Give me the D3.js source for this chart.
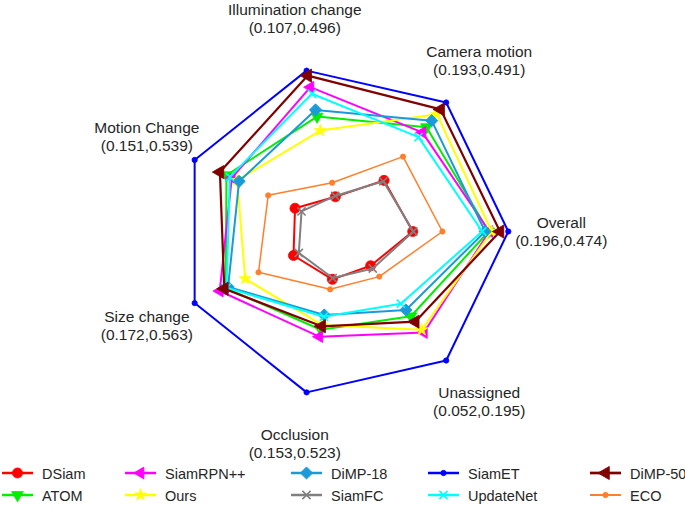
<!DOCTYPE html>
<html>
<head>
<meta charset="utf-8">
<script src="https://cdn.jsdelivr.net/npm/d3@7"></script>
<style>
  html, body { margin: 0; padding: 0; background: #fff; }
  svg { display: block; font-family: "Liberation Sans", Arial, sans-serif; }
</style>
</head>
<body>
<svg id="chart" width="685" height="511"></svg>
<script>
// ------------------------------
// DONNEES
// ------------------------------
const axesNames = ["Illumination change", "Camera motion", "Overall", "Unassigned", "Occlusion", "Size change", "Motion Change"];
const axesMin = [0.107, 0.193, 0.196, 0.052, 0.153, 0.172, 0.151];
const axesMax = [0.496, 0.491, 0.474, 0.195, 0.523, 0.563, 0.539];

const trackers = ["DSiam", "ATOM", "SiamRPN++", "Ours", "DiMP-18", "SiamFC", "SiamET", "UpdateNet", "DiMP-50", "ECO"];

// valeurs dans l'ordre de axesNames
const dsiam     = [0.191, 0.311, 0.313, 0.090, 0.263, 0.303, 0.277];
const atom      = [0.385, 0.434, 0.441, 0.146, 0.379, 0.481, 0.456];
const siamrpn   = [0.456, 0.422, 0.442, 0.164, 0.395, 0.497, 0.442];
const ours      = [0.351, 0.464, 0.446, 0.161, 0.368, 0.430, 0.428];
const dimp18    = [0.401, 0.449, 0.435, 0.139, 0.345, 0.475, 0.423];
const siamfc    = [0.193, 0.309, 0.314, 0.093, 0.260, 0.289, 0.260];
const siamet    = [0.496, 0.491, 0.474, 0.195, 0.523, 0.563, 0.539];
const updatenet = [0.440, 0.411, 0.430, 0.132, 0.349, 0.479, 0.447];
const dimp50    = [0.484, 0.475, 0.460, 0.152, 0.371, 0.485, 0.473];
const eco       = [0.225, 0.366, 0.363, 0.102, 0.286, 0.395, 0.347];

const seriesValues = [dsiam, atom, siamrpn, ours, dimp18, siamfc, siamet, updatenet, dimp50, eco];

// ------------------------------
// STYLES
// ------------------------------
const symTimes = d3.symbolTimes || d3.symbolX;
const styles = [
  { color: "#ff0000", sym: d3.symbolCircle,   size: 80, rot: 0,   lw: 2 },
  { color: "#00ee00", sym: d3.symbolTriangle, size: 60, rot: 180, lw: 2 },
  { color: "#ff00ff", sym: d3.symbolTriangle, size: 60, rot: -90, lw: 2 },
  { color: "#ffff00", sym: d3.symbolStar,     size: 45, rot: 0,   lw: 2 },
  { color: "#1a9ad8", sym: d3.symbolSquare,   size: 75, rot: 45,  lw: 2 },
  { color: "#808080", sym: symTimes,          size: 45, rot: 0,   lw: 2, stroke: true },
  { color: "#0000ff", sym: d3.symbolCircle,   size: 22, rot: 0,   lw: 2 },
  { color: "#00ffff", sym: symTimes,          size: 45, rot: 0,   lw: 2, stroke: true },
  { color: "#800000", sym: d3.symbolTriangle, size: 75, rot: -90, lw: 2.2 },
  { color: "#ff7f2a", sym: d3.symbolCircle,   size: 22, rot: 0,   lw: 1.5 }
];

// ------------------------------
// RADAR
// ------------------------------
const svg = d3.select("#chart");
const cx = 343.3, cy = 231.5, R = 165;
const step = 2 * Math.PI / axesNames.length;
const angle = i => -Math.PI / 2 - step / 4 + i * step;

const rScales = axesNames.map((n, i) => d3.scaleLinear().domain([axesMin[i], axesMax[i]]).range([0, R]));
const pt = (v, i) => [cx + rScales[i](v) * Math.cos(angle(i)), cy + rScales[i](v) * Math.sin(angle(i))];

const line = d3.line().curve(d3.curveLinearClosed);

function marker(g, s, x, y) {
  g.append("path")
    .attr("d", d3.symbol().type(s.sym).size(s.size)())
    .attr("transform", `translate(${x},${y}) rotate(${s.rot})`)
    .attr("fill", s.stroke ? "none" : s.color)
    .attr("stroke", s.color)
    .attr("stroke-width", s.stroke ? 1.6 : 0.8);
}

const plot = svg.append("g");
seriesValues.forEach((vals, k) => {
  const s = styles[k];
  const pts = vals.map((v, i) => pt(v, i));
  plot.append("path")
    .attr("d", line(pts))
    .attr("fill", "none")
    .attr("stroke", s.color)
    .attr("stroke-width", s.lw)
    .attr("stroke-linejoin", "round");
  pts.forEach(p => marker(plot, s, p[0], p[1]));
});

// libelles des axes
const labels = svg.append("g").attr("fill", "#262626").attr("font-size", 15.5).attr("text-anchor", "middle");
axesNames.forEach((n, i) => {
  const lx = cx + 218 * Math.cos(angle(i)), ly = cy + 218 * Math.sin(angle(i));
  labels.append("text").attr("x", lx).attr("y", ly - 4).text(n);
  labels.append("text").attr("x", lx).attr("y", ly + 14)
    .text(`(${axesMin[i].toFixed(3)},${axesMax[i].toFixed(3)})`);
});

// ------------------------------
// LEGENDE
// ------------------------------
const legX = [2, 125, 291, 428, 590];
const legY = [473, 495];
const legend = svg.append("g").attr("font-size", 14.5).attr("fill", "#262626");
trackers.forEach((t, k) => {
  const s = styles[k];
  const x = legX[Math.floor(k / 2)], y = legY[k % 2];
  legend.append("line")
    .attr("x1", x).attr("x2", x + 31).attr("y1", y).attr("y2", y)
    .attr("stroke", s.color).attr("stroke-width", s.lw + 0.5);
  marker(legend, s, x + 15.5, y);
  legend.append("text").attr("x", x + 40).attr("y", y + 5.5).text(t);
});
</script>
</body>
</html>
